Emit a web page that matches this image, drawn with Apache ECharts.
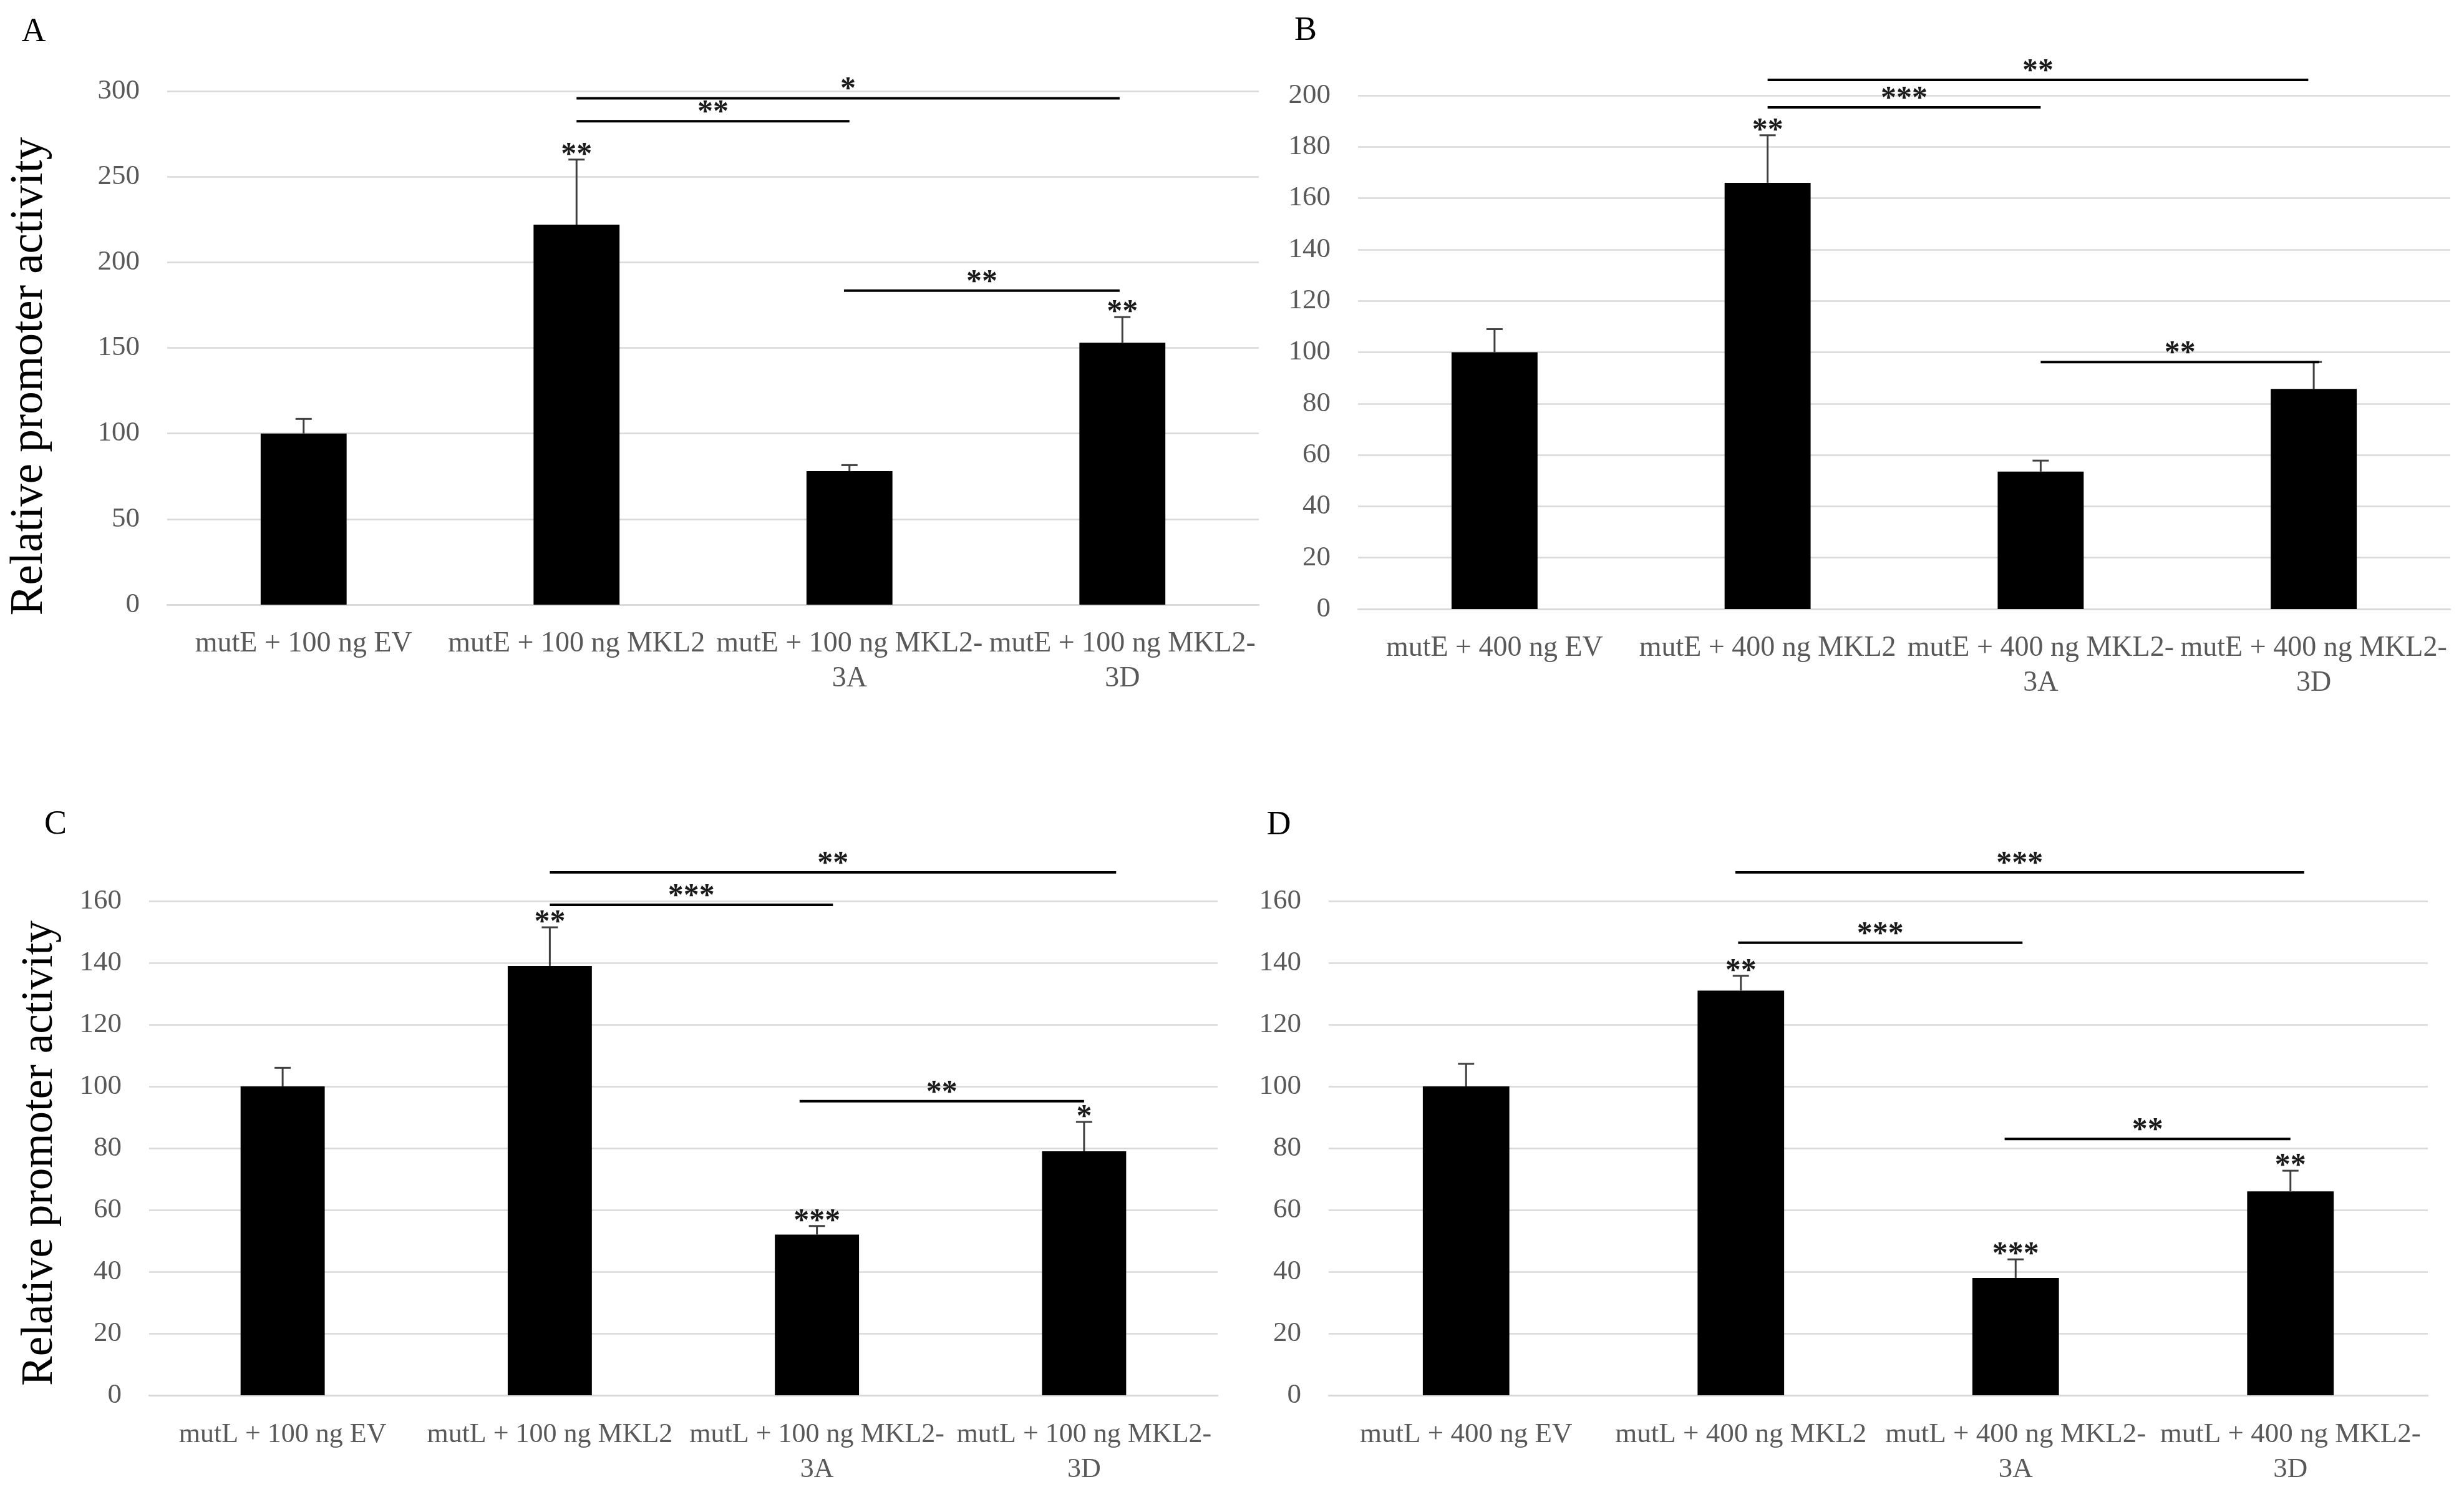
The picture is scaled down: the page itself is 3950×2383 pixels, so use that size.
<!DOCTYPE html>
<html>
<head>
<meta charset="utf-8">
<script src="https://cdn.jsdelivr.net/npm/echarts@6/dist/echarts.min.js"></script>
<style>
html,body{margin:0;padding:0;background:#fff;}
#chart{width:3950px;height:2383px;}
</style>
</head>
<body>
<div id="chart"></div>
<script>
// ---- Data ----
const catsA = ['mutE + 100 ng EV', 'mutE + 100 ng MKL2', 'mutE + 100 ng MKL2-\n3A', 'mutE + 100 ng MKL2-\n3D'];
const valsA = [100, 222, 78, 153];
const errsA = [8.5, 38, 3.5, 15];
const starsA = ['', '**', '', '**'];
const bracketsA = [[1, 2.99, 295.8], [1, 2, 282.4], [1.98, 2.99, 183.4]];
const bracketLabelsA = ['*', '**', '**'];

const catsB = ['mutE + 400 ng EV', 'mutE + 400 ng MKL2', 'mutE + 400 ng MKL2-\n3A', 'mutE + 400 ng MKL2-\n3D'];
const valsB = [100, 166, 53.5, 85.7];
const errsB = [9, 18.5, 4.3, 10.5];
const starsB = ['', '**', '', ''];
const bracketsB = [[1, 2.98, 206.1], [1, 2, 195.4], [2, 3.02, 96.2]];
const bracketLabelsB = ['**', '***', '**'];

const catsC = ['mutL + 100 ng EV', 'mutL + 100 ng MKL2', 'mutL + 100 ng MKL2-\n3A', 'mutL + 100 ng MKL2-\n3D'];
const valsC = [100, 139, 52, 79];
const errsC = [6, 12.5, 2.8, 9.5];
const starsC = ['', '**', '***', '*'];
const bracketsC = [[1, 3.12, 169.3], [1, 2.06, 158.8], [1.935, 3, 95.2]];
const bracketLabelsC = ['**', '***', '**'];

const catsD = ['mutL + 400 ng EV', 'mutL + 400 ng MKL2', 'mutL + 400 ng MKL2-\n3A', 'mutL + 400 ng MKL2-\n3D'];
const valsD = [100, 131, 38, 66];
const errsD = [7.3, 4.8, 6, 6.7];
const starsD = ['', '**', '***', '**'];
const bracketsD = [[0.98, 3.05, 169.3], [0.99, 2.025, 146.5], [1.96, 3, 83.0]];
const bracketLabelsD = ['***', '***', '**'];

const yTicksA = {min: 0, max: 300, interval: 50};
const yTicksB = {min: 0, max: 200, interval: 20};
const yTicksC = {min: 0, max: 160, interval: 20};
const yTicksD = {min: 0, max: 160, interval: 20};

const yTitle = 'Relative promoter activity';

// ---- Layout / style ----
const FONT = '"Liberation Serif", "DejaVu Serif", serif';
const GREY = '#595959';
const GRID_COLOR = '#d9d9d9';

const panels = [
  {cats: catsA, vals: valsA, errs: errsA, stars: starsA, br: bracketsA, brl: bracketLabelsA, y: yTicksA, fs: 46,
   grid: {left: 268, right: 1932, top: 146, bottom: 1414}},
  {cats: catsB, vals: valsB, errs: errsB, stars: starsB, br: bracketsB, brl: bracketLabelsB, y: yTicksB, fs: 46,
   grid: {left: 2177, right: 22, top: 153, bottom: 1407}},
  {cats: catsC, vals: valsC, errs: errsC, stars: starsC, br: bracketsC, brl: bracketLabelsC, y: yTicksC, fs: 44,
   grid: {left: 239, right: 1998, top: 1444, bottom: 147}},
  {cats: catsD, vals: valsD, errs: errsD, stars: starsD, br: bracketsD, brl: bracketLabelsD, y: yTicksD, fs: 45,
   grid: {left: 2130, right: 58, top: 1444, bottom: 147}}
];

const STAR_FONT = 'bold 50px ' + FONT;

function fracCoord(api, idx, v) {
  const i = Math.floor(idx);
  const f = idx - i;
  const p = api.coord([i, v]);
  const bw = api.size([1, 0])[0];
  return [p[0] + f * bw, p[1]];
}

const grids = [], xAxes = [], yAxes = [], series = [];
panels.forEach((p, k) => {
  grids.push(Object.assign({containLabel: false}, p.grid));
  xAxes.push({
    type: 'category', gridIndex: k, data: p.cats,
    axisTick: {show: false},
    axisLine: {show: true, lineStyle: {color: GRID_COLOR, width: 2.5}},
    axisLabel: {interval: 0, color: GREY, fontFamily: FONT, fontSize: p.fs, lineHeight: 56, margin: 35, align: 'center'}
  });
  yAxes.push({
    type: 'value', gridIndex: k, min: p.y.min, max: p.y.max, interval: p.y.interval,
    axisLine: {show: false}, axisTick: {show: false},
    splitLine: {show: true, lineStyle: {color: GRID_COLOR, width: 2.5}},
    axisLabel: {color: GREY, fontFamily: FONT, fontSize: 45, margin: 44}
  });
  series.push({
    type: 'bar', xAxisIndex: k, yAxisIndex: k, data: p.vals,
    barWidth: '31.5%', itemStyle: {color: '#000'}, silent: true
  });
  // error bars + star annotations
  series.push({
    type: 'custom', xAxisIndex: k, yAxisIndex: k,
    data: p.vals.map((v, i) => [i, v, p.errs[i]]),
    encode: {x: 0, y: 1},
    z: 5,
    renderItem: function (params, api) {
      const i = api.value(0), v = api.value(1), e = api.value(2);
      const p0 = api.coord([i, v]);
      const p1 = api.coord([i, v + e]);
      const cap = 13;
      const children = [
        {type: 'line', shape: {x1: p0[0], y1: p0[1], x2: p1[0], y2: p1[1]}, style: {stroke: '#404040', lineWidth: 3}},
        {type: 'line', shape: {x1: p1[0] - cap, y1: p1[1], x2: p1[0] + cap, y2: p1[1]}, style: {stroke: '#404040', lineWidth: 3}}
      ];
      const s = p.stars[params.dataIndex];
      if (s) {
        children.push({type: 'text', style: {text: s, x: p1[0], y: p1[1] - 17 + 10, align: 'center', verticalAlign: 'middle', font: STAR_FONT, fill: '#1a1a1a'}});
      }
      return {type: 'group', children: children};
    }
  });
  // significance brackets
  series.push({
    type: 'custom', xAxisIndex: k, yAxisIndex: k,
    data: p.br.map(b => [b[0], b[1], b[2]]),
    encode: {x: 0, y: 2},
    z: 6,
    renderItem: function (params, api) {
      const a = fracCoord(api, api.value(0), api.value(2));
      const b = fracCoord(api, api.value(1), api.value(2));
      const label = p.brl[params.dataIndex];
      return {type: 'group', children: [
        {type: 'line', shape: {x1: a[0], y1: a[1], x2: b[0], y2: b[1]}, style: {stroke: '#000', lineWidth: 4}},
        {type: 'text', style: {text: label, x: (a[0] + b[0]) / 2, y: a[1] - 23 + 10, align: 'center', verticalAlign: 'middle', font: STAR_FONT, fill: '#1a1a1a'}}
      ]};
    }
  });
});

const graphic = [
  {type: 'text', x: 54, y: 52, style: {text: 'A', font: '54px ' + FONT, fill: '#000', align: 'center', verticalAlign: 'middle'}},
  {type: 'text', x: 2093, y: 50, style: {text: 'B', font: '54px ' + FONT, fill: '#000', align: 'center', verticalAlign: 'middle'}},
  {type: 'text', x: 89, y: 1322, style: {text: 'C', font: '54px ' + FONT, fill: '#000', align: 'center', verticalAlign: 'middle'}},
  {type: 'text', x: 2050, y: 1323, style: {text: 'D', font: '54px ' + FONT, fill: '#000', align: 'center', verticalAlign: 'middle'}},
  {type: 'text', x: 48, y: 603, rotation: Math.PI / 2, style: {text: yTitle, font: '73px ' + FONT, fill: '#000', align: 'center', verticalAlign: 'middle'}},
  {type: 'text', x: 64, y: 1848, rotation: Math.PI / 2, style: {text: yTitle, font: '71px ' + FONT, fill: '#000', align: 'center', verticalAlign: 'middle'}}
];

const chart = echarts.init(document.getElementById('chart'), null, {renderer: 'canvas'});
chart.setOption({
  animation: false,
  backgroundColor: '#fff',
  grid: grids, xAxis: xAxes, yAxis: yAxes, series: series, graphic: graphic
});
</script>
</body>
</html>
